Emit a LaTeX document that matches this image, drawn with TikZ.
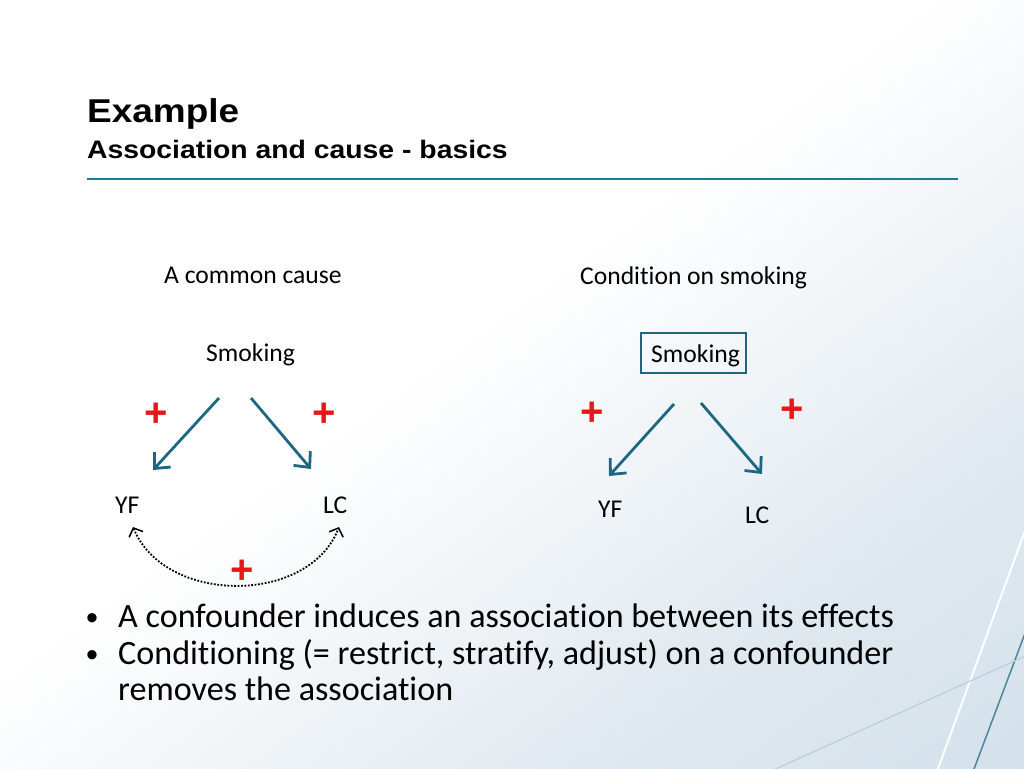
\documentclass[tikz,border=0pt]{standalone}
\usepackage{fontspec}
\setmainfont[Ligatures=NoCommon]{Carlito}
\newfontfamily\titlefont[FakeStretch=1.12]{Liberation Sans}
\newfontfamily\plusfont{Liberation Sans}
\usetikzlibrary{arrows.meta}
\definecolor{tealA}{RGB}{28,104,130}
\definecolor{ruleC}{RGB}{30,122,142}
\definecolor{plusR}{RGB}{232,22,22}
\definecolor{bgA}{RGB}{224,233,240}
\definecolor{bgB}{RGB}{186,208,223}
\pgfdeclarehorizontalshading{slidebg}{100bp}{color(0bp)=(white); color(46bp)=(white); color(62bp)=(bgA); color(94bp)=(bgB); color(100bp)=(bgB)}
\tikzset{
  lbl/.style={inner sep=0pt, anchor=base west, font=\fontsize{25.6}{30}\selectfont},
  plussign/.style={inner sep=0pt, text=plusR, font=\plusfont\bfseries\fontsize{40}{40}\selectfont},
  causal/.style={draw=tealA, line width=2.8pt, -{Straight Barb[length=12pt,width=22pt]}},
  assoc/.style={draw=black, line width=1.8pt, dash pattern=on 1.8pt off 1.6pt,
     {Straight Barb[length=7pt,width=15pt,line width=1.5pt]}-{Straight Barb[length=7pt,width=15pt,line width=1.5pt]}},
  bullettext/.style={inner sep=0pt, anchor=base west, font=\fontsize{34.1}{37}\selectfont},
  bulletdot/.style={inner sep=0pt, anchor=base west, font=\plusfont\fontsize{34.1}{37}\selectfont},
}
\begin{document}
\begin{tikzpicture}[x=1pt,y=-1pt]
\useasboundingbox (0,0) rectangle (1024,768);
\begin{scope}
\clip (0,0) rectangle (1024,768);
\fill[white] (0,0) rectangle (1024,768);
\begin{scope}[transform canvas={rotate=-54}]
\shade[shading=slidebg] (0,-1400) rectangle (1300,1400);
\end{scope}
% decorative lines
\draw[white, line width=2pt] (1030,517) -- (932,785);
\draw[tealA!80, line width=1.5pt] (1030,620) -- (968,785);
\draw[bgB!70!tealA!60, line width=1.2pt] (760,776) -- (1030,654);
\end{scope}
% title
\node[inner sep=0pt, anchor=base west, font=\titlefont\bfseries\fontsize{33}{36}\selectfont] (title) at (87,122) {Example};
\node[inner sep=0pt, anchor=base west, font=\titlefont\bfseries\fontsize{25.3}{28}\selectfont] (subtitle) at (87,158) {Association and cause - basics};
\coordinate (ruleL) at (87,179);
\coordinate (ruleR) at (958,179);
\draw[ruleC, line width=1.4pt] (ruleL) -- (ruleR);
% left diagram
\node[lbl] (cc) at (164,283) {A common cause};
\node[lbl] (smL) at (206,361) {Smoking};
\node[lbl] (yfL) at (115,513) {YF};
\node[lbl] (lcL) at (323,513) {LC};
\coordinate (aL1s) at (219,398);
\coordinate (aL1e) at (153,470);
\coordinate (aL2s) at (251,398);
\coordinate (aL2e) at (311,469);
\draw[causal] (aL1s) -- (aL1e);
\draw[causal] (aL2s) -- (aL2e);
\node[plussign] (pL1) at (156,415) {+};
\node[plussign] (pL2) at (324,415) {+};
\coordinate (dL) at (133,527);
\coordinate (dR) at (339,527);
\draw[assoc] (dL) .. controls (165,605) and (309,605) .. (dR);
\node[plussign] (pL3) at (242,572) {+};
% right diagram
\node[lbl] (cs) at (580,284) {Condition on smoking};
\node[inner sep=0pt, anchor=base west, font=\fontsize{25.6}{30}\selectfont] (smR) at (651,362) {Smoking};
\draw[tealA, line width=1.2pt] (641,333) rectangle (746,373);
\node[lbl] (yfR) at (598,517) {YF};
\node[lbl] (lcR) at (745,523) {LC};
\coordinate (aR1s) at (674,404);
\coordinate (aR1e) at (609,476);
\coordinate (aR2s) at (701,403);
\coordinate (aR2e) at (762,474);
\draw[causal] (aR1s) -- (aR1e);
\draw[causal] (aR2s) -- (aR2e);
\node[plussign] (pR1) at (592,414) {+};
\node[plussign] (pR2) at (792,411) {+};
% bullets
\node[bulletdot] (bul1) at (86,629) {•};
\node[bulletdot] (bul2) at (86,666) {•};
\node[bullettext] (t1) at (118,627) {A confounder induces an association between its effects};
\node[bullettext] (t2) at (118,664) {Conditioning (= restrict, stratify, adjust) on a confounder};
\node[bullettext] (t3) at (118,700) {removes the association};
\end{tikzpicture}
\end{document}
